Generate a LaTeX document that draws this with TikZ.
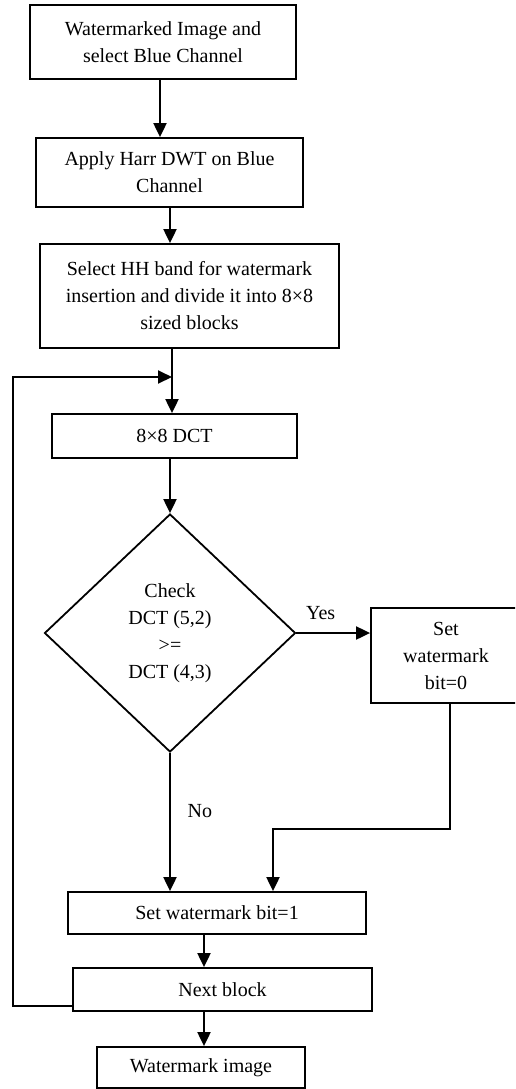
\documentclass[tikz,border=0pt]{standalone}
\usepackage{fontspec}
\setmainfont{Liberation Serif}
\usetikzlibrary{arrows.meta,shapes.geometric}

\tikzset{
  box/.style={draw, line width=0.9pt, inner sep=0pt, align=center,
    font=\fontsize{10}{13.5}\selectfont},
  arr/.style={line width=1pt, -{Triangle[length=7pt,width=6.5pt]}},
  lbl/.style={font=\fontsize{10}{13.5}\selectfont},
}

\begin{document}
\begin{tikzpicture}[x=0.5pt, y=-0.5pt]
  \clip (0,0) rectangle (515,1089);
  \node[box, minimum width=133pt, minimum height=37pt] (img) at (163,42)
    {Watermarked Image and\\select Blue Channel};
  \node[box, minimum width=133.5pt, minimum height=34.5pt] (dwt) at (169.5,172.5)
    {Apply Harr DWT on Blue\\Channel};
  \node[box, minimum width=149.5pt, minimum height=52pt] (hh) at (189.5,296)
    {Select HH band for watermark\\insertion and divide it into 8×8\\sized blocks};
  \node[box, minimum width=122.5pt, minimum height=22pt] (dct) at (174.5,436) {8×8 DCT};
  \node[box, diamond, minimum width=125.5pt, minimum height=119pt] (chk) at (170,633)
    {Check\\DCT (5,2)\\>=\\DCT (4,3)};
  \node[box, minimum width=75pt, minimum height=47.5pt] (set0) at (446,655.5)
    {Set\\watermark\\bit=0};
  \node[box, minimum width=149pt, minimum height=21pt] (set1) at (217,913) {Set watermark bit=1};
  \node[box, minimum width=149.5pt, minimum height=21.5pt] (next) at (222.5,989.5) {Next block};
  \node[box, minimum width=104pt, minimum height=20.5pt] (out) at (201,1067.5) {Watermark image};

  % columns for the arrows
  \coordinate (c1) at (160,0);
  \coordinate (c2) at (170,0);
  \coordinate (c3) at (172,0);
  \coordinate (c4) at (204,0);
  \coordinate (drop) at (450,0);
  \coordinate (bend) at (273,829);
  \coordinate (ret) at (13,1006);
  \coordinate (top) at (172,377);

  \draw[arr] (img.south -| c1) -- (dwt.north -| c1);
  \draw[arr] (dwt.south -| c2) -- (hh.north -| c2);
  \draw[arr] (hh.south -| c3) -- (dct.north -| c3);
  \draw[arr] (dct.south -| chk.north) -- (chk.north);
  \draw[arr] (chk.east) -- (set0.west |- chk.east)
    node[lbl, pos=0.33, above=3pt] {Yes};
  \draw[arr] (chk.south) -- (chk.south |- set1.north)
    node[lbl, pos=0.42, right=5pt] {No};
  \draw[arr] (set0.south -| drop) |- (bend) -- (set1.north -| bend);
  \draw[arr] (set1.south -| c4) -- (next.north -| c4);
  \draw[arr] (next.south -| c4) -- (out.north -| c4);
  % loop back
  \draw[arr] (next.west |- ret) -- (ret) |- (top);
\end{tikzpicture}
\end{document}
